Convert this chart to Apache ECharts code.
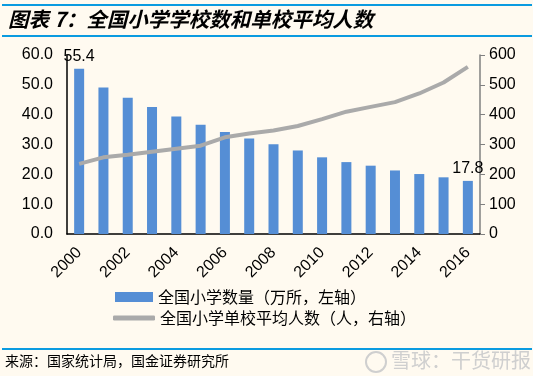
<!DOCTYPE html>
<html>
<head>
<meta charset="utf-8">
<script src="https://cdn.jsdelivr.net/npm/echarts@6/dist/echarts.min.js"></script>
<style>
  html, body { margin: 0; padding: 0; background: #fffaf0; }
  #chart { width: 533px; height: 376px; }
</style>
</head>
<body>
<div id="chart"></div>
<script>
// 年份
const years = ['2000','2001','2002','2003','2004','2005','2006','2007','2008',
  '2009','2010','2011','2012','2013','2014','2015','2016'];
// 全国小学数量（万所）
const schoolCount = [55.4, 49.1, 45.7, 42.6, 39.4, 36.6, 34.2, 32.0, 30.1,
  28.0, 25.7, 24.1, 22.9, 21.3, 20.1, 19.0, 17.8];
// 单校平均人数（人）
const avgStudents = [235, 257, 266, 276, 286, 296, 324, 337, 347,
  362, 385, 410, 426, 442, 471, 508, 560];
const leftTicks = [0, 60, 10];
const rightTicks = [0, 600, 100];

const chart = echarts.init(document.getElementById('chart'));
const cjk = '"Noto Sans CJK SC", sans-serif';
const latin = '"Liberation Sans", Arial, sans-serif';
const barName = '全国小学数量（万所，左轴）';
const lineName = '全国小学单校平均人数（人，右轴）';

let options = {
  backgroundColor: '#fffaf0',
  animation: false,
  title: {
    text: '图表 7：全国小学学校数和单校平均人数',
    left: 3,
    top: 4,
    textStyle: {
      fontFamily: cjk,
      fontSize: 20.5,
      fontWeight: 'bold',
      fontStyle: 'italic',
      color: '#000'
    }
  },
  graphic: [
    { type: 'rect', shape: { x: 2, y: 4, width: 530, height: 2 }, style: { fill: '#0a9be0' } },
    { type: 'rect', shape: { x: 2, y: 35, width: 530, height: 2 }, style: { fill: '#0a9be0' } },
    { type: 'rect', shape: { x: 2, y: 348, width: 530, height: 2 }, style: { fill: '#0a9be0' } },
    {
      type: 'text', left: 5, top: 354,
      style: { text: '来源：国家统计局，国金证券研究所', font: '14px "Noto Sans CJK SC"', fill: '#000' }
    },
    {
      type: 'circle', shape: { cx: 376, cy: 362, r: 10 },
      style: { fill: 'none', stroke: '#cfcfcf', lineWidth: 2 }
    },
    {
      type: 'text', left: 391, top: 350,
      style: { text: '雪球：干货研报', font: '20px "Noto Sans CJK SC"', fill: '#cfcfcf' }
    }
  ],
  legend: [
    {
      orient: 'vertical',
      left: 110,
      top: 284,
      itemWidth: 38,
      itemHeight: 10,
      textStyle: { fontFamily: cjk, fontSize: 16, color: '#000' },
      data: [{ name: barName, icon: 'rect' }]
    },
    {
      orient: 'vertical',
      left: 108,
      top: 305,
      itemWidth: 42,
      itemHeight: 5,
      textStyle: { fontFamily: cjk, fontSize: 16, color: '#000' },
      data: [{ name: lineName, icon: 'roundRect' }]
    }
  ],
  grid: { left: 67, right: 53, top: 55, bottom: 142 },
  xAxis: {
    type: 'category',
    data: years,
    axisLine: { lineStyle: { color: '#000', width: 1.5 } },
    axisTick: { show: false },
    axisLabel: {
      interval: 1,
      rotate: 45,
      margin: 16,
      fontFamily: latin,
      fontSize: 16,
      color: '#000'
    }
  },
  yAxis: [
    {
      type: 'value',
      min: leftTicks[0],
      max: leftTicks[1],
      interval: leftTicks[2],
      splitLine: { show: false },
      axisLine: { show: true, lineStyle: { color: '#000', width: 1.5 } },
      axisTick: { show: false },
      axisLabel: {
        margin: 14,
        fontFamily: latin,
        fontSize: 16,
        color: '#000',
        formatter: v => v.toFixed(1)
      }
    },
    {
      type: 'value',
      min: rightTicks[0],
      max: rightTicks[1],
      interval: rightTicks[2],
      position: 'right',
      splitLine: { show: false },
      axisLine: { show: true, lineStyle: { color: '#808080', width: 1.5 } },
      axisTick: { show: true, length: 5, lineStyle: { color: '#808080' } },
      axisLabel: {
        margin: 9,
        fontFamily: latin,
        fontSize: 16,
        color: '#000'
      }
    }
  ],
  series: [
    {
      name: barName,
      type: 'bar',
      barWidth: 10,
      itemStyle: { color: '#558ed5' },
      data: schoolCount.map((v, i) => {
        if (i === 0 || i === schoolCount.length - 1) {
          return {
            value: v,
            label: {
              show: true,
              position: 'top',
              distance: 4,
              fontFamily: latin,
              fontSize: 16,
              color: '#000'
            }
          };
        }
        return v;
      })
    },
    {
      name: lineName,
      type: 'line',
      yAxisIndex: 1,
      symbol: 'none',
      lineStyle: { color: '#aaaaaa', width: 4 },
      itemStyle: { color: '#aaaaaa' },
      data: avgStudents
    }
  ]
};

chart.setOption(options);
</script>
</body>
</html>
